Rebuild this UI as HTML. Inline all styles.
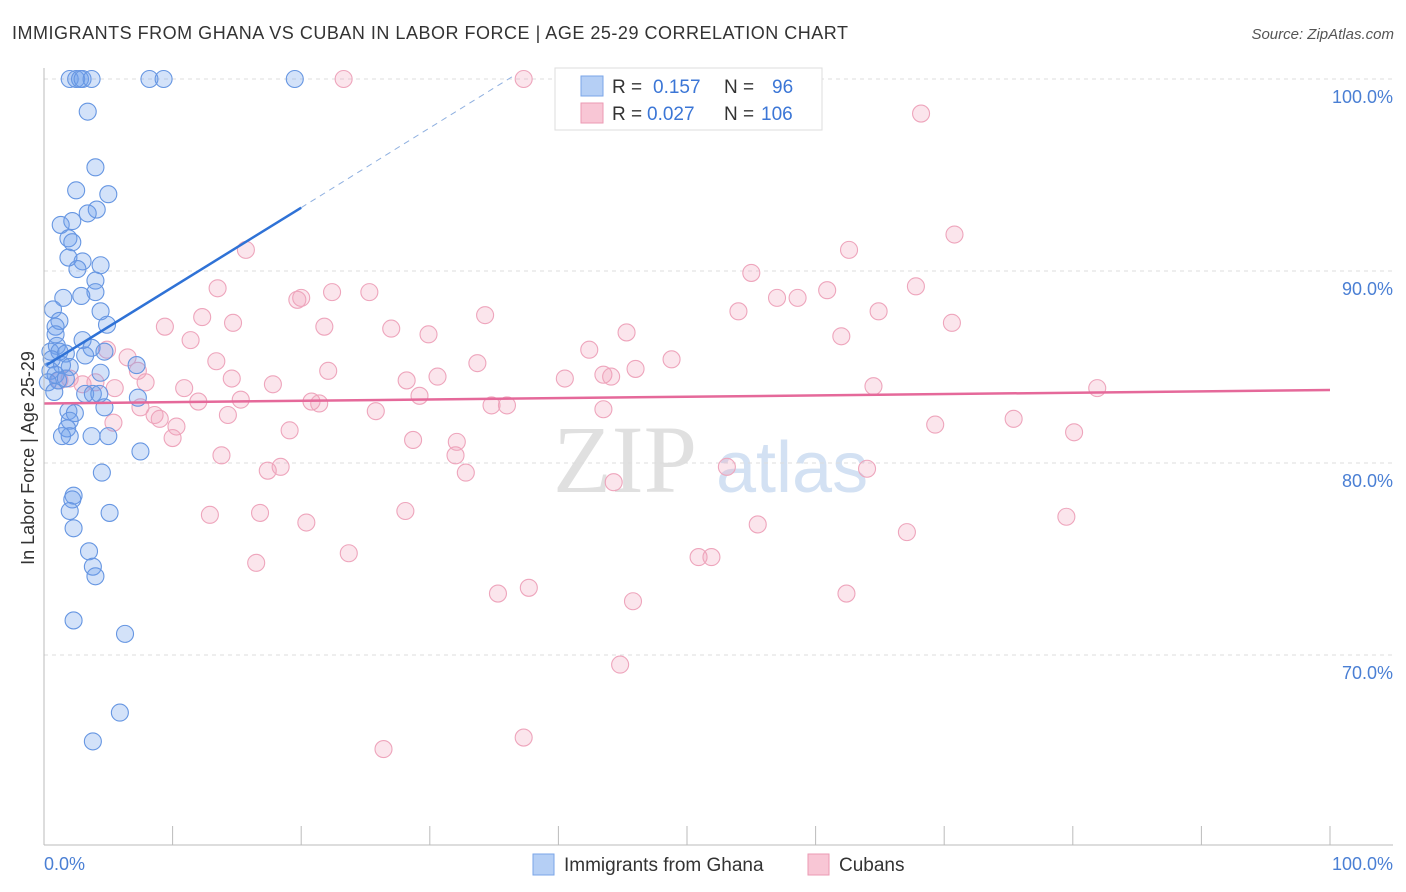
<!DOCTYPE html>
<html><head><meta charset="utf-8"><style>
body{margin:0;background:#fff;font-family:"Liberation Sans",sans-serif}
svg{display:block}
</style></head><body>
<svg id="c" width="1406" height="892" viewBox="0 0 1406 892">
<text x="12" y="39" font-size="18" fill="#333" textLength="836" lengthAdjust="spacing">IMMIGRANTS FROM GHANA VS CUBAN IN LABOR FORCE | AGE 25-29 CORRELATION CHART</text>
<text x="1394" y="39" font-size="15" fill="#555" font-style="italic" text-anchor="end">Source: ZipAtlas.com</text>
<text x="0" y="0" transform="translate(34,458) rotate(-90)" font-size="18" fill="#333" text-anchor="middle">In Labor Force | Age 25-29</text>
<g><text x="553" y="492" font-size="96" font-family="Liberation Serif,serif" fill="#e0e0e0">ZIP</text><text x="716" y="492" font-size="72" fill="#d3e1f3">atlas</text></g>
<g id="grid"></g><g id="marks"></g><g id="lines"></g>
<line x1="44" y1="68" x2="44" y2="845" stroke="#bbb"/>
<line x1="44" y1="845" x2="1393" y2="845" stroke="#bbb"/>
<text x="44" y="870" font-size="18" fill="#4a7fd4">0.0%</text>
<text x="1393" y="870" font-size="18" fill="#4a7fd4" text-anchor="end">100.0%</text>
<g>
<rect x="555" y="68" width="267" height="62" fill="#fff" stroke="#ddd"/>
<rect x="581" y="76" width="22" height="20" fill="#b5cff5" stroke="#7aa6e8"/>
<rect x="581" y="103" width="22" height="20" fill="#f8c6d5" stroke="#eb9ab3"/>
<text x="612" y="93" font-size="19" fill="#333">R = <tspan fill="#3b76d6" x="653">0.157</tspan><tspan x="724">N = </tspan><tspan fill="#3b76d6" x="772">96</tspan></text>
<text x="612" y="120" font-size="19" fill="#333">R = <tspan fill="#3b76d6" x="647">0.027</tspan><tspan x="724">N = </tspan><tspan fill="#3b76d6" x="761">106</tspan></text>
</g>
<g>
<rect x="533" y="854" width="21" height="21" fill="#b5cff5" stroke="#7aa6e8"/>
<text x="564" y="871" font-size="19" fill="#333">Immigrants from Ghana</text>
<rect x="808" y="854" width="21" height="21" fill="#f8c6d5" stroke="#eb9ab3"/>
<text x="839" y="871" font-size="19" fill="#333">Cubans</text>
</g>
</svg>
<script>
const yTicks=[100,90,80,70];
const yTickLabels=["100.0%","90.0%","80.0%","70.0%"];
const xTicks=[0,10,20,30,40,50,60,70,80,90,100];
const ghanaX=[2.0,2.5,2.8,3.0,3.7,8.2,9.3,19.5,3.4,4.0,2.5,5.0,4.1,3.4,1.3,2.2,1.9,2.2,3.0,1.9,2.6,4.4,4.0,4.0,1.5,2.9,0.7,4.4,1.2,0.9,4.9,0.9,3.0,1.0,3.7,0.5,1.2,1.7,3.2,4.7,7.2,0.6,1.4,2.0,0.5,0.9,1.1,0.3,1.7,4.4,0.8,3.2,3.8,4.3,7.3,4.7,1.9,2.4,2.0,1.8,2.0,1.4,3.7,5.0,7.5,4.5,2.3,2.2,2.0,5.1,2.3,3.5,3.8,4.0,2.3,6.3,5.9,3.8];
const ghanaY=[100,100,100,100,100,100,100,100,98.3,95.4,94.2,94.0,93.2,93.0,92.4,92.6,91.7,91.5,90.5,90.7,90.1,90.3,89.5,88.9,88.6,88.7,88.0,87.9,87.4,87.1,87.2,86.7,86.4,86.1,86.0,85.8,85.8,85.7,85.6,85.8,85.1,85.4,85.1,85.0,84.8,84.6,84.3,84.2,84.4,84.7,83.7,83.6,83.6,83.6,83.4,82.9,82.7,82.6,82.2,81.8,81.4,81.4,81.4,81.4,80.6,79.5,78.3,78.1,77.5,77.4,76.6,75.4,74.6,74.1,71.8,71.1,67.0,65.5];
const cubanX=[23.3,37.3,68.2,70.8,15.7,62.6,55.0,13.5,20.0,22.4,25.3,57.0,58.6,60.9,67.8,19.7,12.3,34.3,54.0,64.9,9.4,14.7,21.8,27.0,29.9,45.3,70.6,11.4,62.0,4.9,6.5,13.4,33.7,48.8,42.4,7.3,22.1,30.6,40.5,43.5,44.1,46.0,2.0,4.0,5.5,7.9,10.9,14.6,17.8,28.2,29.2,64.5,81.9,12.0,15.3,20.8,21.4,34.8,36.0,43.5,7.5,8.6,9.0,14.3,25.8,10.3,5.4,10.0,19.1,28.7,32.0,32.1,69.3,75.4,80.1,13.8,17.4,18.4,32.8,53.1,44.3,64.0,12.9,16.8,20.4,28.1,79.5,55.5,67.1,23.7,16.5,50.9,51.9,35.3,37.7,45.8,62.4,44.8,26.4,37.3,1.2,3.0];
const cubanY=[100,100,98.2,91.9,91.1,91.1,89.9,89.1,88.6,88.9,88.9,88.6,88.6,89.0,89.2,88.5,87.6,87.7,87.9,87.9,87.1,87.3,87.1,87.0,86.7,86.8,87.3,86.4,86.6,85.9,85.5,85.3,85.2,85.4,85.9,84.8,84.8,84.5,84.4,84.6,84.5,84.9,84.4,84.2,83.9,84.2,83.9,84.4,84.1,84.3,83.5,84.0,83.9,83.2,83.3,83.2,83.1,83.0,83.0,82.8,82.9,82.5,82.3,82.5,82.7,81.9,82.1,81.3,81.7,81.2,80.4,81.1,82.0,82.3,81.6,80.4,79.6,79.8,79.5,79.8,79.0,79.7,77.3,77.4,76.9,77.5,77.2,76.8,76.4,75.3,74.8,75.1,75.1,73.2,73.5,72.8,73.2,69.5,65.1,65.7,84.3,84.1];
const ghanaTrendX=[0.2,20,36.6];
const ghanaTrendY=[85.1,93.3,100.2];
const cubanTrendX=[0,100];
const cubanTrendY=[83.1,83.8];
const NS='http://www.w3.org/2000/svg';
const sx=v=>44+v*12.86, sy=v=>79+(100-v)*19.2;
function mk(t,a,p){const e=document.createElementNS(NS,t);for(const k in a)e.setAttribute(k,a[k]);p.appendChild(e);return e;}
const grid=document.getElementById('grid'),marks=document.getElementById('marks'),lines=document.getElementById('lines');
yTicks.forEach((t,i)=>{
 const g=mk('line',{x1:44,x2:1393,y1:sy(t),y2:sy(t),stroke:'#ddd','stroke-dasharray':'4,4'},grid);
 
 
 const l=mk('text',{x:1393,y:sy(t)+24,'font-size':18,fill:'#4a7fd4','text-anchor':'end'},grid);
 l.textContent=yTickLabels[i];
 
 
});
xTicks.forEach(t=>{
 const k=mk('line',{x1:sx(t),x2:sx(t),y1:826,y2:845,stroke:'#bbb'},grid);
 
 
});
cubanX.forEach((x,i)=>{
 const c=mk('circle',{cx:sx(x),cy:sy(cubanY[i]),r:8.5,fill:'rgba(242,160,188,0.28)',stroke:'#eea5bc','stroke-width':1.1},marks);
 
 
});
ghanaX.forEach((x,i)=>{
 const c=mk('circle',{cx:sx(x),cy:sy(ghanaY[i]),r:8.5,fill:'rgba(110,160,235,0.3)',stroke:'#6696e2','stroke-width':1.1},marks);
 
 
});
let a=mk('line',{x1:sx(ghanaTrendX[0]),y1:sy(ghanaTrendY[0]),x2:sx(ghanaTrendX[1]),y2:sy(ghanaTrendY[1]),stroke:'#2f72d6','stroke-width':2.5},lines);


a=mk('line',{x1:sx(ghanaTrendX[1]),y1:sy(ghanaTrendY[1]),x2:sx(ghanaTrendX[2]),y2:sy(ghanaTrendY[2]),stroke:'#8fb0e0','stroke-width':1,'stroke-dasharray':'6,5'},lines);


a=mk('line',{x1:sx(cubanTrendX[0]),y1:sy(cubanTrendY[0]),x2:sx(cubanTrendX[1]),y2:sy(cubanTrendY[1]),stroke:'#e5699a','stroke-width':2.5},lines);


</script>
</body></html>
